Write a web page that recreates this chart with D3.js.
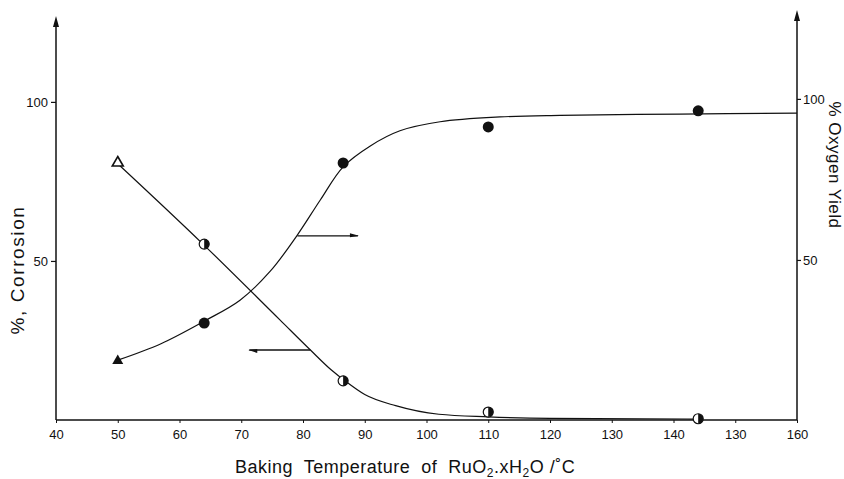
<!DOCTYPE html>
<html>
<head>
<meta charset="utf-8">
<script src="https://cdn.jsdelivr.net/npm/d3@7"></script>
<style>
  html, body { margin: 0; padding: 0; background: #fff; }
  svg { display: block; }
  text { font-family: "Liberation Sans", Arial, sans-serif; fill: #111; }
</style>
</head>
<body>
<svg id="chart" width="844" height="479"></svg>
<script>
// ---- data ----
const temps = [50, 64, 86.5, 110, 144];
const corrosion = [81.1, 55.3, 12.3, 2.5, 0.4];      // % corrosion (left axis)
const oxygenYield = [18.9, 30.4, 80.1, 91.3, 96.3];   // % oxygen yield (right axis)

// hand-drawn fitted curves
const corrosionCurveT = [49.7, 63.8, 76.3, 81.2, 84.6, 86.8, 90, 95, 102, 110, 120, 144];
const corrosionCurveV = [81.1, 55.3, 31.4, 22, 15.7, 12.3, 8, 4.5, 1.8, 1.0, 0.5, 0.3];
const oxygenCurveT = [50, 57, 64.1, 69.8, 74.7, 79, 82.8, 86.5, 90.9, 95.7, 102.2, 111.9, 121.6, 141, 160];
const oxygenCurveV = [18.9, 24, 31.1, 37.5, 46.5, 57.5, 68.6, 78.9, 85.4, 90.1, 92.9, 94.4, 94.9, 95.3, 95.6];

const xTickValues = [40, 50, 60, 70, 80, 90, 100, 110, 120, 130, 140, 150, 160];
const xTickLabels = ["40", "50", "60", "70", "80", "90", "100", "110", "120", "130", "140", "130", "160"];
const leftTickValues = [50, 100];
const rightTickValues = [50, 100];

// ---- layout ----
const svg = d3.select("#chart");
const x = d3.scaleLinear().domain([40, 160]).range([56, 797]);
const yL = d3.scaleLinear().domain([0, 127]).range([420, 16]);
const yR = d3.scaleLinear().domain([0, 127.6]).range([421, 10]);

const ink = "#111";

// bottom axis
const xAxis = d3.axisBottom(x).tickValues(xTickValues)
  .tickFormat((d, i) => xTickLabels[i]).tickSize(3).tickPadding(7);
const gx = svg.append("g").attr("transform", `translate(0,${yL(0)})`).call(xAxis);
gx.select(".domain").remove();
gx.selectAll("line").attr("stroke", ink).attr("stroke-width", 1);
gx.selectAll("text").attr("font-size", 13).attr("fill", ink);
svg.append("line").attr("x1", x(40)).attr("x2", x(160)).attr("y1", yL(0)).attr("y2", yL(0))
  .attr("stroke", ink).attr("stroke-width", 1.6);

// left axis
const yAxisL = d3.axisLeft(yL).tickValues(leftTickValues).tickSize(5).tickPadding(3);
const gyl = svg.append("g").attr("transform", `translate(${x(40)},0)`).call(yAxisL);
gyl.select(".domain").remove();
gyl.selectAll("line").attr("stroke", ink).attr("stroke-width", 1.2);
gyl.selectAll("text").attr("font-size", 13).attr("fill", ink);
svg.append("line").attr("x1", x(40)).attr("x2", x(40)).attr("y1", yL(0)).attr("y2", yL(127) + 6)
  .attr("stroke", ink).attr("stroke-width", 1.5);
svg.append("path")
  .attr("d", `M${x(40)},${yL(127)} l-3,11 l6,0 z`).attr("fill", ink);

// right axis
const yAxisR = d3.axisRight(yR).tickValues(rightTickValues).tickSize(4).tickPadding(2);
const gyr = svg.append("g").attr("transform", `translate(${x(160)},0)`).call(yAxisR);
gyr.select(".domain").remove();
gyr.selectAll("line").attr("stroke", ink).attr("stroke-width", 1.2);
gyr.selectAll("text").attr("font-size", 13).attr("fill", ink);
svg.append("line").attr("x1", x(160)).attr("x2", x(160)).attr("y1", yL(0)).attr("y2", yR(127.6) + 6)
  .attr("stroke", ink).attr("stroke-width", 1.5);
svg.append("path")
  .attr("d", `M${x(160)},${yR(127.6)} l-3,11 l6,0 z`).attr("fill", ink);

// curves
const lineL = d3.line().x(d => x(d[0])).y(d => yL(d[1])).curve(d3.curveMonotoneX);
const lineR = d3.line().x(d => x(d[0])).y(d => yR(d[1])).curve(d3.curveCatmullRom.alpha(0.5));
svg.append("path").datum(d3.zip(corrosionCurveT, corrosionCurveV))
  .attr("d", lineL).attr("fill", "none").attr("stroke", ink).attr("stroke-width", 1.2);
svg.append("path").datum(d3.zip(oxygenCurveT, oxygenCurveV))
  .attr("d", lineR).attr("fill", "none").attr("stroke", ink).attr("stroke-width", 1.2);

// annotation arrows (pointing to the relevant axis)
const upY = yR(57.5);
svg.append("line").attr("x1", x(79.1)).attr("x2", x(88.9)).attr("y1", upY).attr("y2", upY)
  .attr("stroke", ink).attr("stroke-width", 1.3);
svg.append("path").attr("d", `M${x(88.9) + 1},${upY} l-9,-2.5 l0,4 z`).attr("fill", ink);
const loY = yL(22);
svg.append("line").attr("x1", x(71.3)).attr("x2", x(81.2)).attr("y1", loY).attr("y2", loY)
  .attr("stroke", ink).attr("stroke-width", 1.3);
svg.append("path").attr("d", `M${x(71.3) - 1},${loY} l9,-1 l0,4 z`).attr("fill", ink);

// markers: corrosion (open triangle then half-filled circles)
const r = 5;
temps.forEach((t, i) => {
  const cx = x(t), cy = yL(corrosion[i]);
  if (i === 0) {
    svg.append("path").attr("d", `M${cx},${cy - 5.5} L${cx + 5.5},${cy + 4} L${cx - 5.5},${cy + 4} Z`)
      .attr("fill", "#fff").attr("stroke", ink).attr("stroke-width", 1.6);
  } else {
    svg.append("circle").attr("cx", cx).attr("cy", cy).attr("r", r)
      .attr("fill", "#fff").attr("stroke", ink).attr("stroke-width", 1.2);
    svg.append("path").attr("d", `M${cx},${cy - r} A${r},${r} 0 0 1 ${cx},${cy + r} Z`).attr("fill", ink);
  }
});
// markers: oxygen yield (filled triangle then filled circles)
temps.forEach((t, i) => {
  const cx = x(t), cy = yR(oxygenYield[i]);
  if (i === 0) {
    svg.append("path").attr("d", `M${cx},${cy - 5.5} L${cx + 5.5},${cy + 4} L${cx - 5.5},${cy + 4} Z`)
      .attr("fill", ink);
  } else {
    svg.append("circle").attr("cx", cx).attr("cy", cy).attr("r", r + 0.5).attr("fill", ink);
  }
});

// axis titles
const xt = svg.append("text").attr("x", 235).attr("y", 473).attr("font-size", 18)
  .attr("letter-spacing", 0.5);
xt.append("tspan").text("Baking\u00a0 Temperature\u00a0 of\u00a0 RuO");
xt.append("tspan").attr("font-size", 12).attr("dy", 4).text("2");
xt.append("tspan").attr("dy", -4).text(".xH");
xt.append("tspan").attr("font-size", 12).attr("dy", 4).text("2");
xt.append("tspan").attr("dy", -4).text("O /\u02daC");

svg.append("text").attr("transform", "translate(24,270) rotate(-90)")
  .attr("text-anchor", "middle").attr("font-size", 19).attr("letter-spacing", 1.6)
  .text("%, Corrosion");
svg.append("text").attr("transform", "translate(829,165) rotate(90)")
  .attr("text-anchor", "middle").attr("font-size", 17).attr("letter-spacing", 0.5)
  .text("% Oxygen Yield");
</script>
</body>
</html>
